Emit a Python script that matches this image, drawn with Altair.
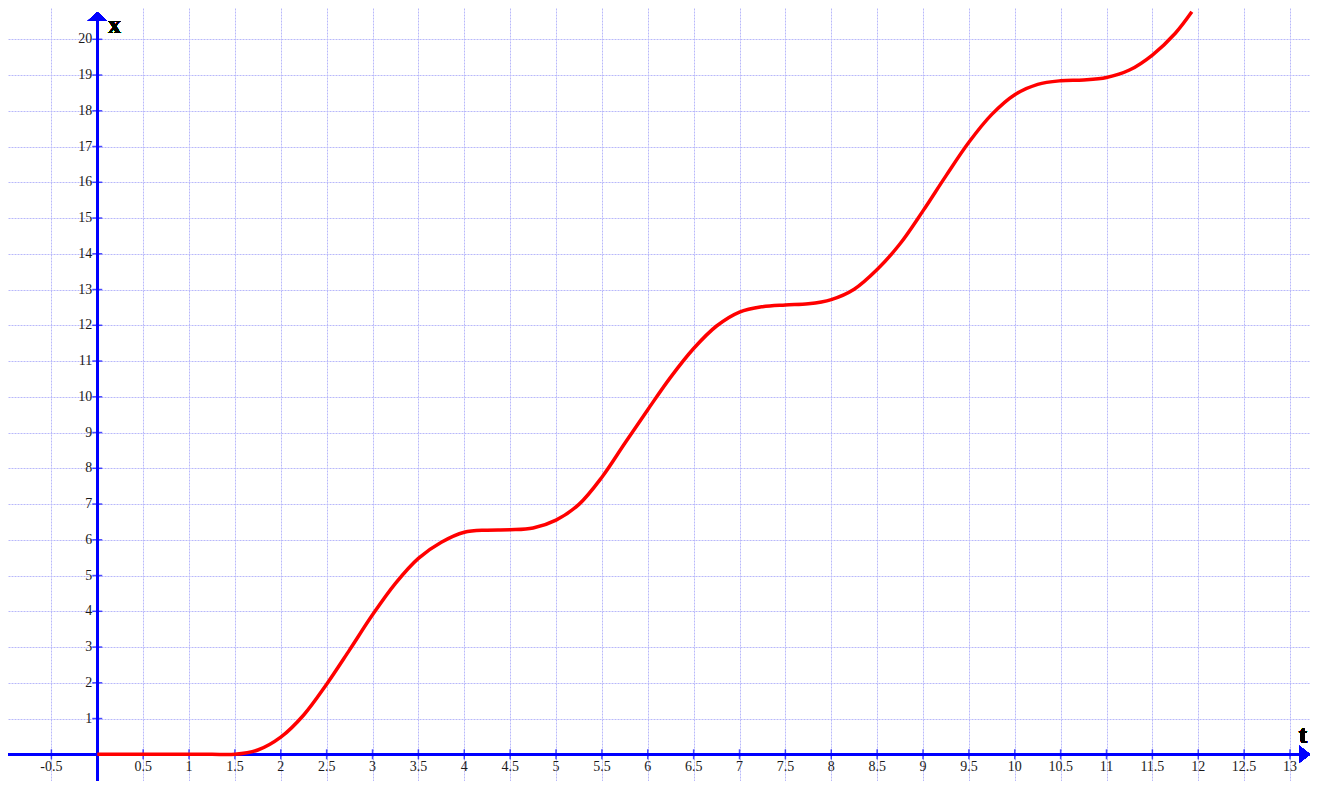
import altair as alt
import pandas as pd

# ---- data ----
t_vals = [0, 0.5, 1, 1.25, 1.5, 1.75, 2, 2.25, 2.5, 2.75, 3, 3.25, 3.5, 3.75, 4, 4.25, 4.5,
          4.75, 5, 5.25, 5.5, 5.75, 6, 6.25, 6.5, 6.75, 7, 7.25, 7.5, 7.75, 8, 8.25,
          8.5, 8.75, 9, 9.25, 9.5, 9.75, 10, 10.25, 10.5, 10.75, 11, 11.25, 11.5,
          11.75, 11.93]
x_vals = [0, 0, 0, 0, 0, 0.12, 0.48, 1.10, 1.96, 2.92, 3.90, 4.78, 5.48, 5.93, 6.21, 6.27, 6.28,
          6.33, 6.55, 6.99, 7.75, 8.70, 9.64, 10.55, 11.35, 11.98, 12.37, 12.52, 12.57,
          12.60, 12.72, 13.01, 13.56, 14.28, 15.20, 16.18, 17.12, 17.90, 18.45, 18.74,
          18.84, 18.86, 18.93, 19.14, 19.56, 20.17, 20.77]

x_ticks = [-0.5, 0.5, 1, 1.5, 2, 2.5, 3, 3.5, 4, 4.5, 5, 5.5, 6, 6.5, 7, 7.5, 8, 8.5,
           9, 9.5, 10, 10.5, 11, 11.5, 12, 12.5, 13]
x_tick_labels = ["-0.5", "0.5", "1", "1.5", "2", "2.5", "3", "3.5", "4", "4.5", "5",
                 "5.5", "6", "6.5", "7", "7.5", "8", "8.5", "9", "9.5", "10", "10.5",
                 "11", "11.5", "12", "12.5", "13"]
y_ticks = list(range(1, 21))
y_tick_labels = [str(v) for v in y_ticks]

t_domain = [-0.973, 13.218]
x_domain = [-0.747, 20.875]
t_arrow = 13.16
x_arrow = 20.64

curve = pd.DataFrame({"t": t_vals, "x": x_vals})
xt = pd.DataFrame({"v": x_ticks, "label": x_tick_labels})
yt = pd.DataFrame({"v": y_ticks, "label": y_tick_labels})

BLUE = "#0000ff"
FONT = "Liberation Serif"
GRID = "#b8b8fa"

xs = alt.Scale(domain=t_domain, nice=False, zero=False)
ys = alt.Scale(domain=x_domain, nice=False, zero=False)

grid_axis_x = alt.Axis(values=x_ticks, grid=True, labels=False, ticks=False, domain=False,
                       title=None, gridColor=GRID, gridDash=[2, 1], gridWidth=1)
grid_axis_y = alt.Axis(values=y_ticks, grid=True, labels=False, ticks=False, domain=False,
                       title=None, gridColor=GRID, gridDash=[2, 1], gridWidth=1)

base_grid = alt.Chart(curve).mark_point(opacity=0).encode(
    x=alt.X("t:Q", scale=xs, axis=grid_axis_x),
    y=alt.Y("x:Q", scale=ys, axis=grid_axis_y),
)

x_axis_line = alt.Chart(curve).mark_rule(color=BLUE, strokeWidth=2).encode(
    y=alt.datum(0, scale=ys), x=alt.datum(t_domain[0]), x2=alt.datum(t_arrow)
)
y_axis_line = alt.Chart(curve).mark_rule(color=BLUE, strokeWidth=2).encode(
    x=alt.datum(0, scale=xs), y=alt.datum(x_domain[0]), y2=alt.datum(x_arrow)
)

x_tick_marks = alt.Chart(xt).mark_tick(color=BLUE, size=10, thickness=1.5, orient="vertical").encode(
    x=alt.X("v:Q", scale=xs), y=alt.datum(0)
)
y_tick_marks = alt.Chart(yt).mark_tick(color=BLUE, size=10, thickness=1.5, orient="horizontal").encode(
    y=alt.Y("v:Q", scale=ys), x=alt.datum(0)
)

x_labels = alt.Chart(xt).mark_text(font=FONT, fontSize=14, color="#1a1a1a", align="center",
                                   baseline="middle", dy=13).encode(
    x=alt.X("v:Q", scale=xs), y=alt.datum(0), text="label:N"
)
y_labels = alt.Chart(yt).mark_text(font=FONT, fontSize=14, color="#1a1a1a", align="right",
                                   baseline="middle", dx=-5).encode(
    y=alt.Y("v:Q", scale=ys), x=alt.datum(0), text="label:N"
)

arrow_up = alt.Chart(curve).mark_point(
    shape="M0,-0.45L-0.95,0.45L0.95,0.45Z", size=400, filled=True, color=BLUE, opacity=1
).encode(x=alt.datum(0), y=alt.datum(x_arrow))
arrow_right = alt.Chart(curve).mark_point(
    shape="M-0.55,-0.85L0.55,0L-0.55,0.85Z", size=400, filled=True, color=BLUE, opacity=1
).encode(x=alt.datum(t_arrow), y=alt.datum(0))

x_title = alt.Chart(curve).mark_text(text="x", font=FONT, fontSize=25, fontWeight="bold",
                                     color="black", align="left", baseline="alphabetic",
                                     dx=11, dy=-6).encode(x=alt.datum(0), y=alt.datum(20))
t_title = alt.Chart(curve).mark_text(text="t", font=FONT, fontSize=25, fontWeight="bold",
                                     color="black", align="center", baseline="alphabetic",
                                     dx=13, dy=-11).encode(x=alt.datum(13), y=alt.datum(0))

line = alt.Chart(curve).mark_line(color="#ff0000", strokeWidth=3.5, interpolate="catmull-rom").encode(
    x=alt.X("t:Q", scale=xs), y=alt.Y("x:Q", scale=ys)
)

chart = alt.layer(
    base_grid, x_axis_line, y_axis_line, x_tick_marks, y_tick_marks, x_labels, y_labels,
    line, arrow_up, arrow_right, x_title, t_title
).properties(
    width=1302, height=773, padding=0,
    autosize=alt.AutoSizeParams(type="none"),
    background="white",
).configure_view(stroke=None)

chart.save("out.html", embed_options={"renderer": "svg", "actions": False})
